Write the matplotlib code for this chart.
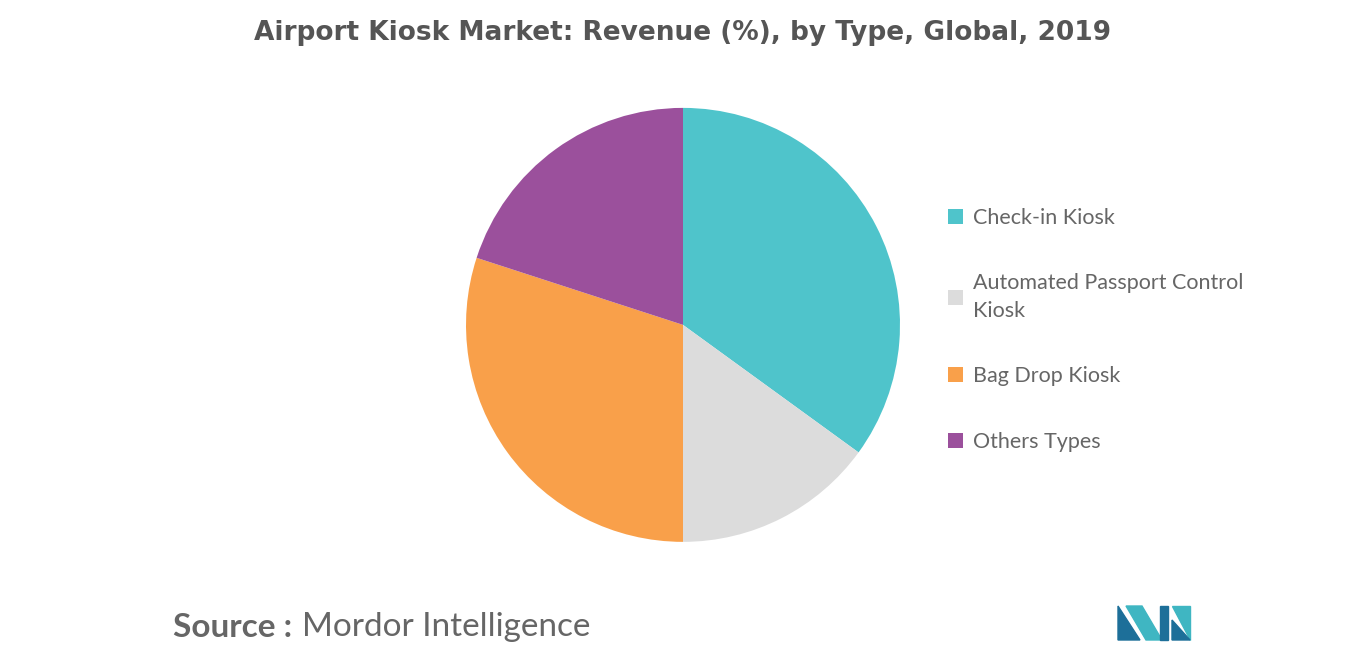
import matplotlib.pyplot as plt
from matplotlib.patches import Polygon

labels = ["Check-in Kiosk", "Automated Passport Control\nKiosk", "Bag Drop Kiosk", "Others Types"]
values = [35, 15, 30, 20]
colors = ["#4FC4CB", "#DCDCDC", "#F9A04A", "#9B509C"]

fig = plt.figure(figsize=(13.66, 6.55), dpi=100, facecolor="white")
ax = fig.add_axes([0.5 - 0.3177 / 2, 0.504 - 0.663 / 2, 0.3177, 0.663])
wedges, _ = ax.pie(values, colors=colors, startangle=90, counterclock=False)
ax.set_xlim(-1, 1)
ax.set_ylim(-1, 1)
ax.set_aspect("equal")

leg = fig.legend(wedges, labels, loc="upper left", bbox_to_anchor=(0.680, 0.712),
                 frameon=False, prop={"family": "Lato", "size": 15.5}, labelcolor="#666666",
                 handlelength=0.7, handleheight=0.7, handletextpad=0.45, labelspacing=2.1)
for t in leg.get_texts():
    t.set_linespacing(1.5)

fig.text(0.5, 0.95, "Airport Kiosk Market: Revenue (%), by Type, Global, 2019",
         ha="center", va="center", fontsize=19, fontweight="bold", color="#555555")
fig.text(0.127, 0.042, "Source :", ha="left", va="center", fontsize=24,
         fontweight="bold", color="#666666", family="Lato")
fig.text(0.221, 0.042, "Mordor Intelligence", ha="left", va="center",
         fontsize=24, color="#666666", family="Lato")

# logo
W, H = 1366, 655
def px(pts):
    return [(x / W, 1 - y / H) for x, y in pts]
fig.patches.append(Polygon(px([(1118, 640), (1118, 606), (1140, 640)]), closed=True,
                           transform=fig.transFigure, color="#1D6F99"))
fig.patches.append(Polygon(px([(1126, 606), (1142, 606), (1162, 640), (1146, 640)]), closed=True,
                           transform=fig.transFigure, color="#3FB6C2"))
fig.patches.append(Polygon(px([(1160, 606), (1168, 606), (1168, 640), (1160, 640)]), closed=True,
                           transform=fig.transFigure, color="#1D6F99"))
fig.patches.append(Polygon(px([(1172, 606), (1190, 606), (1190, 640)]), closed=True,
                           transform=fig.transFigure, color="#3FB6C2"))
fig.patches.append(Polygon(px([(1172, 620), (1190, 640), (1172, 640)]), closed=True,
                           transform=fig.transFigure, color="#1D6F99"))

fig.savefig("out.png", dpi=100, facecolor="white")
